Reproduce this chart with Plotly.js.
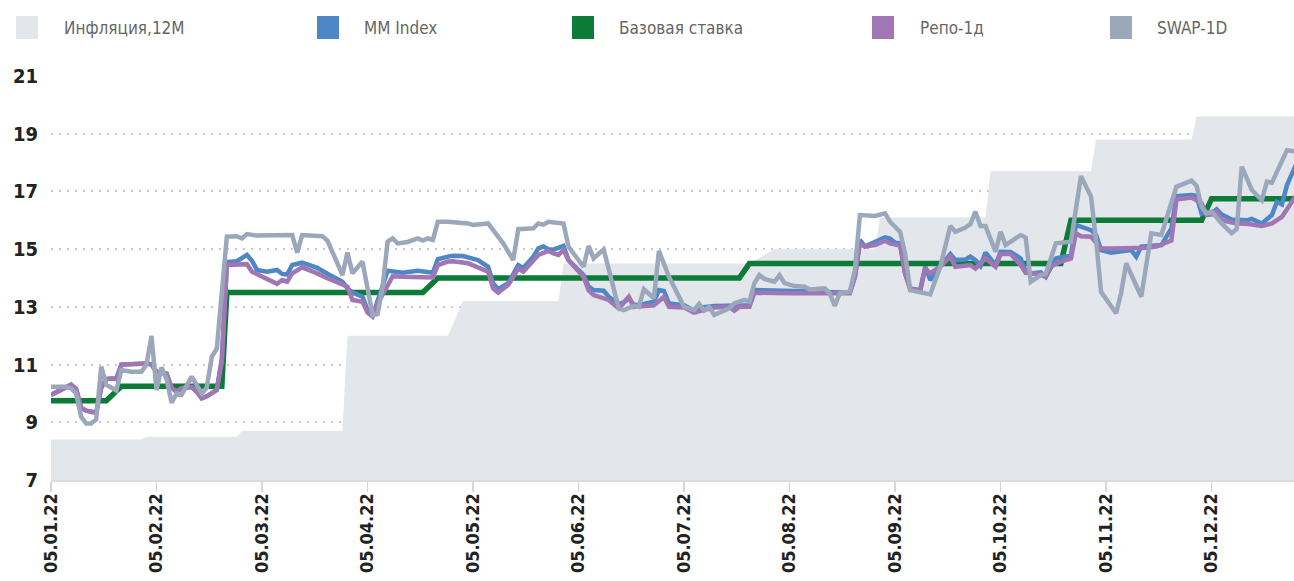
<!DOCTYPE html>
<html>
<head>
<meta charset="utf-8">
<script src="https://cdn.plot.ly/plotly-3.0.1.min.js"></script>
<style>
html,body{margin:0;padding:0;background:#fff;}
#chart{width:1294px;height:581px;}
</style>
</head>
<body>
<div id="chart"></div>
<script>
// x = trading-day index from 05.01.22
const tickDays = [0, 21, 42, 63, 84, 105, 126, 147, 168, 189, 210, 231];
const tickLabels = ["05.01.22","05.02.22","05.03.22","05.04.22","05.05.22","05.06.22","05.07.22","05.08.22","05.09.22","05.10.22","05.11.22","05.12.22"];

const seriesNames = ["Инфляция,12М", "MM Index", "Базовая ставка", "Репо-1д", "SWAP-1D"];

// Inflation, 12M
const inflDays = [0, 18, 19, 37, 38, 58, 59, 79, 82, 101, 102, 139, 144, 164, 165, 186, 187, 207, 208, 227, 228, 248];
const inflVals = [8.4, 8.4, 8.5, 8.5, 8.7, 8.7, 12.0, 12.0, 13.2, 13.2, 14.5, 14.5, 15.0, 15.0, 16.1, 16.1, 17.7, 17.7, 18.8, 18.8, 19.6, 19.6];

// Base rate
const baseDays = [0, 11, 14, 34, 35, 74, 77, 137, 139, 201, 203, 229, 231, 248];
const baseVals = [9.75, 9.75, 10.25, 10.25, 13.5, 13.5, 14.0, 14.0, 14.5, 14.5, 16.0, 16.0, 16.75, 16.75];

// Repo-1d
const repoDays = [0,4,5,6,7,9,10,11,12,13,14,16,19,20,21,23,24,25,26,28,29,30,31,33,34,35,37,39,40,43,44,45,46,47,48,50,53,55,58,59,60,62,63,64,65,68,70,73,76,77,79,80,83,87,88,89,91,93,94,97,99,100,101,102,103,106,107,108,111,113,115,116,120,122,123,126,128,132,135,136,137,139,140,147,156,159,160,161,162,164,166,167,169,170,171,173,174,175,177,179,180,183,184,186,188,189,191,193,194,196,198,199,201,203,204,205,207,208,209,211,215,218,220,223,224,227,229,230,231,232,233,236,238,241,243,245,248];
const repoVals = [9.95,10.3,10.15,9.5,9.4,9.33,10.2,10.5,10.52,10.5,11.0,11.02,11.04,11.0,10.75,10.68,10.2,10.06,10.18,10.22,10.06,9.83,9.9,10.12,11.1,14.45,14.48,14.48,14.22,13.99,13.9,13.8,13.93,13.87,14.16,14.37,14.16,13.99,13.78,13.7,13.24,13.18,12.8,12.66,13.1,14.06,14.04,14.02,14.02,14.45,14.57,14.58,14.51,14.22,13.64,13.49,13.76,14.33,14.22,14.8,14.94,14.85,14.8,14.97,14.62,14.04,13.58,13.41,13.24,12.95,13.35,13.0,13.05,13.35,13.0,12.98,12.8,12.98,13.0,12.87,13.0,13.0,13.49,13.47,13.47,13.47,14.04,15.2,15.09,15.14,15.29,15.2,15.12,14.16,13.62,13.56,14.33,14.16,14.4,14.74,14.39,14.45,14.33,14.68,14.39,14.83,14.83,14.45,14.18,14.15,14.04,14.4,14.57,14.68,15.55,15.45,15.43,15.2,15.03,15.02,15.03,15.05,15.09,15.3,16.72,16.79,16.6,16.18,16.2,16.3,16.0,15.89,15.88,15.8,15.89,16.12,16.9];

// MM Index
const mmDays = [0,4,5,6,7,9,10,11,12,13,14,16,19,20,21,23,24,25,26,28,29,30,31,33,34,35,37,39,40,41,43,45,46,47,48,50,53,55,58,59,60,62,63,64,65,67,70,73,76,77,79,80,82,85,87,88,89,91,93,94,96,97,98,99,100,102,103,104,106,107,108,110,111,113,114,115,116,118,120,121,122,123,126,128,129,132,136,138,139,140,144,148,151,156,159,160,161,162,164,166,167,168,169,170,171,173,174,175,177,179,180,182,183,184,185,186,188,189,191,192,193,194,195,197,198,200,201,203,204,207,208,209,211,215,216,217,221,223,224,227,228,229,231,232,233,235,238,239,241,243,244,245,246,248];
const mmVals = [9.95,10.3,10.15,9.5,9.4,9.33,10.2,10.5,10.52,10.5,11.0,11.02,11.04,11.0,10.75,10.68,10.2,10.06,10.18,10.22,10.06,9.83,9.9,10.12,11.2,14.55,14.58,14.8,14.6,14.28,14.22,14.28,14.14,14.12,14.45,14.53,14.35,14.15,13.87,13.64,13.5,13.35,12.89,12.68,13.2,14.25,14.18,14.25,14.18,14.65,14.74,14.77,14.76,14.62,14.39,13.82,13.61,13.82,14.45,14.35,14.74,15.03,15.09,15.0,14.98,15.11,14.62,14.45,14.1,13.7,13.58,13.56,13.35,13.1,13.15,13.3,13.06,13.1,13.18,13.58,13.55,13.12,13.06,12.87,12.97,13.03,13.05,13.04,13.06,13.58,13.58,13.55,13.53,13.49,13.49,14.04,15.32,15.09,15.26,15.41,15.37,15.22,15.2,14.16,13.64,13.58,14.39,13.93,14.39,14.83,14.62,14.64,14.74,14.62,14.42,14.88,14.45,14.91,14.9,14.8,14.68,14.22,14.16,14.2,14.04,14.68,14.72,14.8,15.84,15.66,15.5,14.97,14.88,14.97,14.74,15.09,15.14,15.72,16.84,16.88,16.85,16.24,16.25,16.38,16.2,16.03,16.0,16.05,15.89,16.18,16.64,16.55,17.22,18.0];

// SWAP-1D
const swapDays = [0,3,4,5,6,7,8,9,10,11,13,14,16,18,19,20,21,22,23,24,25,26,28,29,30,31,32,33,34,35,37,38,39,41,44,48,49,50,54,55,57,58,59,60,62,63,64,65,66,67,68,69,71,73,74,75,76,77,79,83,84,87,90,92,93,96,97,98,99,102,103,104,106,107,108,110,112,113,114,116,117,118,120,121,123,126,128,129,130,131,132,135,136,138,139,140,141,142,144,145,146,148,150,151,154,155,156,157,159,160,161,163,164,166,167,169,170,171,173,175,177,179,180,182,183,184,185,186,188,189,190,193,194,195,197,198,200,203,205,207,208,209,212,213,214,217,219,221,224,227,228,229,230,231,233,235,236,237,239,241,242,243,246,248];
const swapVals = [10.23,10.23,10.18,10.0,9.19,8.96,8.96,9.1,10.93,10.3,10.1,10.81,10.75,10.75,11.0,11.99,10.12,10.9,10.5,9.68,10.0,9.95,10.58,10.29,10.0,10.2,11.27,11.56,13.7,15.43,15.45,15.37,15.52,15.47,15.48,15.49,14.88,15.49,15.45,15.3,14.51,14.1,14.88,14.16,14.57,13.64,12.71,12.75,13.7,15.26,15.37,15.2,15.25,15.37,15.3,15.37,15.32,15.95,15.95,15.89,15.84,15.89,15.2,14.62,15.69,15.72,15.89,15.85,15.95,15.89,15.09,14.85,14.39,15.11,14.68,14.99,13.58,12.95,12.89,13.03,13.0,13.61,13.3,14.94,14.04,13.0,12.89,13.1,12.87,13.0,12.72,12.95,13.12,13.24,13.18,13.82,14.1,13.97,13.87,14.1,13.82,13.72,13.7,13.6,13.64,13.47,13.03,13.47,13.52,14.28,16.18,16.15,16.15,16.24,15.95,15.6,14.85,13.58,13.52,13.43,14.39,15.8,15.6,15.75,15.87,16.3,15.8,15.8,14.91,15.6,15.14,15.49,15.4,13.87,14.1,14.15,15.2,15.26,17.53,16.82,15.32,13.52,12.78,13.49,14.51,13.35,15.55,15.49,17.16,17.37,17.2,16.47,16.24,16.3,15.89,15.55,15.7,17.86,17.05,16.7,17.34,17.3,18.43,18.38,18.75];

const colors = ["#e3e6eb", "#4d87c7", "#0b7b37", "#a076b4", "#9ba8bc"];

const FONT = "'DejaVu Sans Condensed', 'Liberation Sans Narrow', sans-serif";

const traces = [
  {x: inflDays, y: inflVals, type: "scatter", mode: "lines", name: seriesNames[0],
   fill: "tozeroy", fillcolor: colors[0], line: {width: 0, color: colors[0]}, showlegend: false, hoverinfo: "skip"},
  {x: baseDays, y: baseVals, type: "scatter", mode: "lines", name: seriesNames[2],
   line: {width: 5.5, color: colors[2]}, showlegend: false},
  {x: mmDays, y: mmVals, type: "scatter", mode: "lines", name: seriesNames[1],
   line: {width: 4.5, color: colors[1]}, showlegend: false},
  {x: repoDays, y: repoVals, type: "scatter", mode: "lines", name: seriesNames[3],
   line: {width: 4.5, color: colors[3]}, showlegend: false},
  {x: swapDays, y: swapVals, type: "scatter", mode: "lines", name: seriesNames[4],
   line: {width: 4.5, color: colors[4]}, showlegend: false}
];

// plot area geometry (pixels)
const W = 1294, H = 581, ML = 51, MR = 0, MT = 76, MB = 101;
const PW = W - ML - MR, PH = H - MT - MB;
const px2x = p => (p - ML) / PW;
const px2y = p => (H - MB - p) / PH;

// manual legend
const legMarkerX = [16, 317, 572, 872, 1110];
const legTextX = [62, 362, 617, 918, 1155];
const legendOrder = [0, 1, 2, 3, 4];
const shapes = [];
const annotations = [];
legendOrder.forEach((k, i) => {
  shapes.push({type: "rect", xref: "paper", yref: "paper",
    x0: px2x(legMarkerX[i]), x1: px2x(legMarkerX[i] + 22),
    y0: px2y(16), y1: px2y(39), fillcolor: colors[k], line: {width: 0}});
  annotations.push({xref: "paper", yref: "paper", x: px2x(legTextX[i]), y: px2y(27.5),
    xanchor: "left", yanchor: "middle", showarrow: false, text: seriesNames[k],
    font: {family: FONT, size: 17, color: "#666666"}});
});

const layout = {
  width: W, height: H,
  margin: {l: ML, r: MR, t: MT, b: MB, pad: 0},
  paper_bgcolor: "#ffffff", plot_bgcolor: "#ffffff",
  showlegend: false,
  xaxis: {
    range: [0, 247.4], tickmode: "array", tickvals: tickDays, ticktext: tickLabels,
    tickangle: -90, ticks: "outside", ticklen: 10, tickwidth: 1.5, tickcolor: "#d6d6d6",
    ticklabelstandoff: -6,
    showline: true, linecolor: "#dcdcdc", linewidth: 2, showgrid: false, zeroline: false,
    tickfont: {family: FONT, size: 18, weight: 700, color: "#222222"}
  },
  yaxis: {
    range: [7, 21], tick0: 7, dtick: 2, showgrid: true, gridcolor: "#c8c8c8",
    griddash: "2px,6px", gridwidth: 2, zeroline: false, showline: false, ticks: "",
    ticklabelstandoff: 12,
    tickfont: {family: FONT, size: 20, weight: 700, color: "#222222"}
  },
  shapes: shapes,
  annotations: annotations
};

Plotly.newPlot("chart", traces, layout, {displayModeBar: false, staticPlot: true});
</script>
</body>
</html>
